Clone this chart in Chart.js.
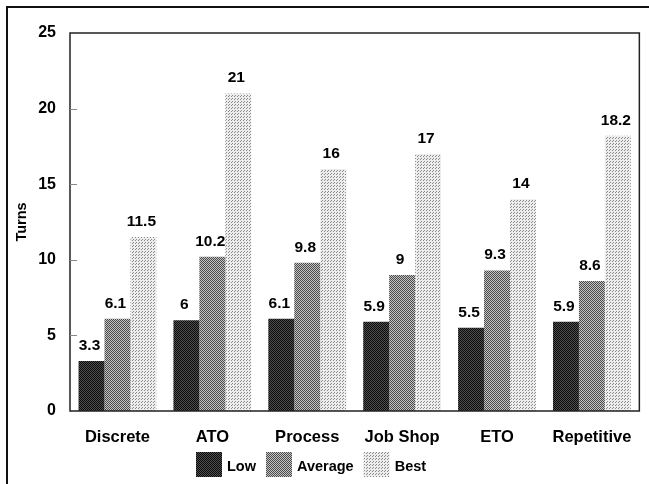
<!DOCTYPE html>
<html>
<head>
<meta charset="utf-8">
<script src="https://cdn.jsdelivr.net/npm/chart.js@4.4.0/dist/chart.umd.min.js"></script>
<style>
  html, body { margin: 0; padding: 0; background: #fff; }
  #wrap { width: 649px; height: 484px; }
</style>
</head>
<body>
<div id="wrap"><canvas id="turnsChart" width="649" height="484"></canvas></div>
<script>
const categories = ['Discrete', 'ATO', 'Process', 'Job Shop', 'ETO', 'Repetitive'];
const lowValues = [3.3, 6, 6.1, 5.9, 5.5, 5.9];
const averageValues = [6.1, 10.2, 9.8, 9, 9.3, 8.6];
const bestValues = [11.5, 21, 16, 17, 14, 18.2];
const yTicks = [0, 5, 10, 15, 20, 25];

// little halftone patterns, like the scanned print
function makePattern(size, draw) {
    const c = document.createElement('canvas');
    c.width = size; c.height = size;
    const g = c.getContext('2d');
    draw(g);
    return g.createPattern(c, 'repeat');
}
const lowFill = makePattern(2, function (g) {
    g.fillStyle = '#505050'; g.fillRect(0, 0, 2, 2);
    g.fillStyle = '#0a0a0a'; g.fillRect(0, 0, 1, 1); g.fillRect(1, 1, 1, 1);
});
const avgFill = makePattern(4, function (g) {
    g.fillStyle = '#c4c4c4'; g.fillRect(0, 0, 4, 4);
    g.fillStyle = '#4a4a4a';
    for (let i = 0; i < 4; i++) { g.fillRect(i, i, 1, 1); g.fillRect((i + 2) % 4, i, 1, 1); }
});
const bestFill = makePattern(3, function (g) {
    g.fillStyle = '#ededed'; g.fillRect(0, 0, 3, 3);
    g.fillStyle = '#8a8a8a'; g.fillRect(0, 0, 1, 1); g.fillRect(1, 2, 1, 1);
});

const font = '"Liberation Sans", Arial, sans-serif';

const decorations = {
    id: 'decorations',
    afterDatasetsDraw(chart) {
        const ctx = chart.ctx;
        const area = chart.chartArea;
        const y = chart.scales.y;
        ctx.save();
        // outer frame (top and left only)
        ctx.strokeStyle = '#111';
        ctx.lineWidth = 2;
        ctx.beginPath();
        ctx.moveTo(7, 484); ctx.lineTo(7, 7); ctx.lineTo(649, 7);
        ctx.stroke();
        // plot border
        ctx.lineWidth = 1.5;
        ctx.strokeStyle = '#222';
        ctx.strokeRect(area.left, area.top, area.right - area.left, area.bottom - area.top);
        // inside tick marks
        ctx.strokeStyle = '#888';
        ctx.lineWidth = 1;
        yTicks.slice(1, -1).forEach(function (v) {
            const py = Math.round(y.getPixelForValue(v)) + 0.5;
            ctx.beginPath(); ctx.moveTo(area.left, py); ctx.lineTo(area.left + 7, py); ctx.stroke();
        });
        // value labels
        ctx.fillStyle = '#000';
        ctx.font = 'bold 15.5px ' + font;
        ctx.textAlign = 'center';
        ctx.textBaseline = 'alphabetic';
        chart.data.datasets.forEach(function (ds, i) {
            chart.getDatasetMeta(i).data.forEach(function (bar, j) {
                ctx.fillText(String(ds.data[j]), bar.x - 2, bar.y - 11);
            });
        });
        // legend
        let lx = 196;
        const ly = 452;
        ctx.textAlign = 'left';
        ctx.textBaseline = 'alphabetic';
        ctx.font = 'bold 14.5px ' + font;
        chart.data.datasets.forEach(function (ds) {
            ctx.fillStyle = ds.backgroundColor;
            ctx.fillRect(lx, ly, 26, 25);
            ctx.fillStyle = '#000';
            ctx.fillText(ds.label, lx + 31, 471);
            lx += 31 + ctx.measureText(ds.label).width + 10;
        });
        ctx.restore();
    }
};

new Chart(document.getElementById('turnsChart'), {
    type: 'bar',
    data: {
        labels: categories,
        datasets: [
            { label: 'Low', data: lowValues, backgroundColor: lowFill },
            { label: 'Average', data: averageValues, backgroundColor: avgFill },
            { label: 'Best', data: bestValues, backgroundColor: bestFill }
        ]
    },
    options: {
        responsive: false,
        animation: false,
        layout: { padding: { top: 33, right: 8, left: 10, bottom: 0 } },
        datasets: { bar: { categoryPercentage: 0.82, barPercentage: 1 } },
        plugins: {
            legend: { display: false },
            tooltip: { enabled: false }
        },
        scales: {
            x: {
                grid: { display: false, drawTicks: false },
                border: { display: false },
                ticks: { color: '#000', padding: 17, font: { family: font, size: 16.5, weight: 'bold' } },
                afterFit(scale) { scale.height = 73; }
            },
            y: {
                min: 0,
                max: 25,
                afterBuildTicks(scale) { scale.ticks = yTicks.map(v => ({ value: v })); },
                grid: { display: false, drawTicks: false },
                border: { display: false },
                ticks: { color: '#000', padding: 14, font: { family: font, size: 16, weight: 'bold' } },
                title: {
                    display: true,
                    text: 'Turns',
                    color: '#000',
                    padding: { top: 3, bottom: 0 },
                    font: { family: font, size: 14.5, weight: 'bold' }
                },
                afterFit(scale) { scale.width = 60; }
            }
        }
    },
    plugins: [decorations]
});
</script>
</body>
</html>
